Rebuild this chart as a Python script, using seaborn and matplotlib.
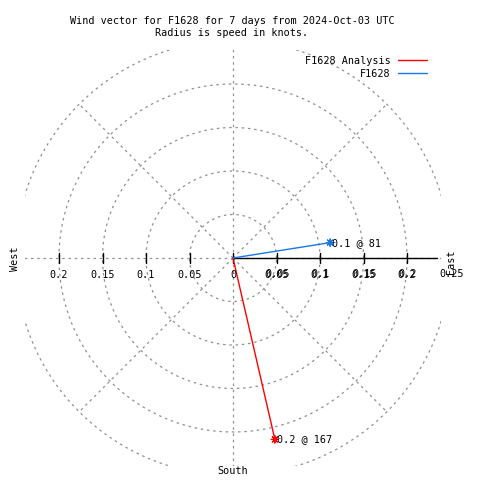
import numpy as np
import pandas as pd
import matplotlib
matplotlib.use("Agg")
import matplotlib.pyplot as plt
from matplotlib.lines import Line2D
import seaborn as sns

# --- data ---
series_names = ["F1628 Analysis", "F1628"]
speeds = [0.214, 0.113]          # knots
directions = [167, 81]           # degrees, compass bearing
series_colors = ["#ff0000", "#1a78e6"]

grid_radii = [0.05, 0.1, 0.15, 0.2, 0.25]
spoke_angles = [0, 45, 90, 135, 180, 225, 270, 315]
x_ticks = [-0.2, -0.15, -0.1, -0.05, 0, 0.05, 0.1, 0.15, 0.2]
r_ticks = [0, 0.05, 0.1, 0.15, 0.2, 0.25]

title_lines = ["Wind vector for F1628 for 7 days from 2024-Oct-03 UTC",
               "Radius is speed in knots."]

# --- layout (pixel based, 870 px per knot, centre at 233,258) ---
PX = 870.0
CX, CY = 233, 258
BOX = 0.239
AXIS_END = 0.235
FS = 7.3
GREY = "#909090"


def px(x, y):
    return (x - CX) / PX, (CY - y) / PX


sns.set_style("white")
plt.rcParams["font.family"] = ["DejaVu Sans Mono"]
plt.rcParams["text.color"] = "black"

fig = plt.figure(figsize=(4.8, 4.8), dpi=100)
ax = fig.add_axes([0, 0, 1, 1])
ax.set_xlim(-CX / PX, (480 - CX) / PX)
ax.set_ylim(-(480 - CY) / PX, CY / PX)
ax.axis("off")

clip = plt.Rectangle((-BOX, -BOX), 2 * BOX, 2 * BOX, transform=ax.transData)
dots = (0, (2, 3))

# polar grid: circles and spokes
t = np.linspace(0, 2 * np.pi, 400)
for r in grid_radii:
    ln, = ax.plot(r * np.cos(t), r * np.sin(t), color=GREY, lw=0.9, ls=dots)
    ln.set_clip_path(clip)
for a in spoke_angles:
    th = np.deg2rad(a)
    ln, = ax.plot([0, 0.25 * np.cos(th)], [0, 0.25 * np.sin(th)],
                  color=GREY, lw=0.9, ls=dots)
    ln.set_clip_path(clip)

# radial axis and ticks
ax.plot([0, AXIS_END], [0, 0], color="black", lw=1)
tick_h = 5 / PX
for v in x_ticks:
    ax.plot([v, v], [-tick_h, tick_h], color="black", lw=1)
    ax.text(v, -17 / PX, f"{abs(v):g}", ha="center", va="center", fontsize=FS)
for v in r_ticks:
    if v == 0:
        continue
    ax.text(v + 1 / PX, -16 / PX, f"{v:g}", ha="center", va="center", fontsize=FS)

# compass labels
ax.text(*px(15, 259), "West", rotation=90, ha="center", va="center", fontsize=FS)
ax.text(*px(451, 262), "East", rotation=90, ha="center", va="center", fontsize=FS)
ax.text(*px(233, 471), "South", ha="center", va="center", fontsize=FS)

# wind vectors
rows = []
for name, s, d in zip(series_names, speeds, directions):
    th = np.deg2rad(d)
    rows.append({"series": name, "x": 0.0, "y": 0.0})
    rows.append({"series": name, "x": s * np.sin(th), "y": s * np.cos(th)})
df = pd.DataFrame(rows)
palette = dict(zip(series_names, series_colors))

sns.lineplot(data=df, x="x", y="y", hue="series", palette=palette, sort=False,
             estimator=None, lw=1, legend=False, ax=ax)
tips = df.iloc[1::2]
sns.scatterplot(data=tips, x="x", y="y", hue="series", palette=palette,
                marker=(8, 2, 0), s=28, linewidth=0.8, legend=False, ax=ax)
for _, row in tips.iterrows():
    i = series_names.index(row["series"])
    ax.text(row["x"] + 2 / PX, row["y"], f"{speeds[i]:.1f} @ {directions[i]}",
            ha="left", va="center", fontsize=FS)

ax.set_xlabel("")
ax.set_ylabel("")

# legend, text left of the sample line
handles = [Line2D([], [], color=c, lw=1) for c in series_colors]
fig.legend(handles, series_names, loc="upper right", markerfirst=False,
           frameon=False, fontsize=FS, handlelength=2.9, handletextpad=0.7,
           labelspacing=0.25, borderpad=0, borderaxespad=0,
           bbox_to_anchor=(427 / 480, 1 - 56 / 480))

# title
fig.text(232 / 480, 1 - 21 / 480, title_lines[0], ha="center", va="center", fontsize=FS)
fig.text(232 / 480, 1 - 33 / 480, title_lines[1], ha="center", va="center", fontsize=FS)

fig.savefig("out.png", dpi=100)
